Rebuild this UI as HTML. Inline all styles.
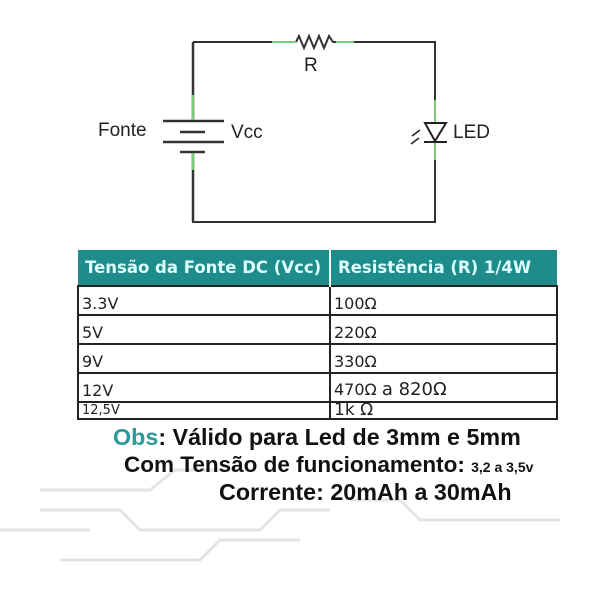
<!DOCTYPE html>
<html><head><style>
body{margin:0;width:600px;height:600px;background:#fff;position:relative;overflow:hidden;font-family:"Liberation Sans",sans-serif}
.t{position:absolute;white-space:nowrap}
table{position:absolute;left:77px;top:250px;border-collapse:collapse;table-layout:fixed;width:481px;font-family:"DejaVu Sans",sans-serif}
td{border:2px solid #222;padding:0 0 1px 3px;font-size:16px;color:#222;height:26px;vertical-align:bottom;overflow:hidden;white-space:nowrap}
th{background:#1d8c8a;color:#dff;font-size:16.5px;font-weight:bold;height:33px;text-align:left;padding-left:7px;border-right:2px solid #fff;white-space:nowrap;overflow:hidden}
</style></head><body>
<svg width="600" height="600" style="position:absolute;left:0;top:0">
<g stroke="#e4e4e4" stroke-width="3" fill="none">
<path d="M40 490 H150 L175 470 H240"/><path d="M40 510 H120 L140 530 H260 L280 510 H330"/>
<path d="M60 560 H200 L220 540 H300"/><path d="M0 530 H90"/><path d="M350 500 H400 L420 520 H560"/>
</g>
<g stroke="#333" stroke-width="2" fill="none">
<path d="M193 42 H272"/><path d="M354 42 H435 V222 H193 V42"/>
<path d="M296 42 L299 36 L304 48 L309 36 L314 48 L319 36 L324 48 L329 36 L333 42 H354"/>
</g>
<path d="M272 42 H296 M336 42 H354" stroke="#7c7" stroke-width="2"/>
<rect x="180" y="110" width="30" height="60" fill="#fff"/>
<g stroke="#333" stroke-width="2.5">
<path d="M193 42 V121"/><path d="M163 121 H224"/><path d="M180 132 H205"/><path d="M163 142 H224"/><path d="M180 152 H205"/><path d="M193 152 V222"/>
</g>
<path d="M193 95 V120 M193 153 V170" stroke="#7c7" stroke-width="2"/>
<rect x="428" y="110" width="14" height="45" fill="#fff"/>
<path d="M435 100 V222" stroke="#7c7" stroke-width="2"/>
<path d="M435 42 V100 M435 160 V222" stroke="#333" stroke-width="2"/>
<path d="M425 123 H446 L435 141 Z" fill="#fff" stroke="#222" stroke-width="2"/>
<path d="M424 142 H447" stroke="#222" stroke-width="2"/>
<path d="M420 130 L412 136 M419 138 L411 144" stroke="#222" stroke-width="1.5"/>
</svg>
<div class="t" style="left:304px;top:55px;font-size:19px;color:#222">R</div>
<div class="t" style="left:98px;top:120px;font-size:19px;color:#222">Fonte</div>
<div class="t" style="left:231px;top:122px;font-size:19px;color:#222">Vcc</div>
<div class="t" style="left:453px;top:122px;font-size:19px;color:#222">LED</div>
<table>
<tr><th style="width:243px">Tensão da Fonte DC (Vcc)</th><th style="border-right:none">Resistência (R) 1/4W</th></tr>
<tr><td>3.3V</td><td>100Ω</td></tr>
<tr><td>5V</td><td>220Ω</td></tr>
<tr><td>9V</td><td>330Ω</td></tr>
<tr><td>12V</td><td>470Ω <span style="font-size:18px">a 820Ω</span></td></tr>
<tr><td style="height:15px;font-size:13px;line-height:15px;padding:0 0 0 3px">12,5V</td><td style="height:15px;font-size:17px;line-height:15px;padding:0 0 0 3px">1k Ω</td></tr>
</table>
<div class="t" style="left:113px;top:424px;font-size:23.3px;font-weight:bold;color:#111"><span style="color:#2a9a98">Obs</span>: Válido para Led de 3mm e 5mm</div>
<div class="t" style="left:124px;top:452px;font-size:22.5px;font-weight:bold;color:#111">Com Tensão de funcionamento: <span style="font-size:14px">3,2 a 3,5v</span></div>
<div class="t" style="left:219px;top:479px;font-size:23.3px;font-weight:bold;color:#111">Corrente: 20mAh a 30mAh</div>
</body></html>
